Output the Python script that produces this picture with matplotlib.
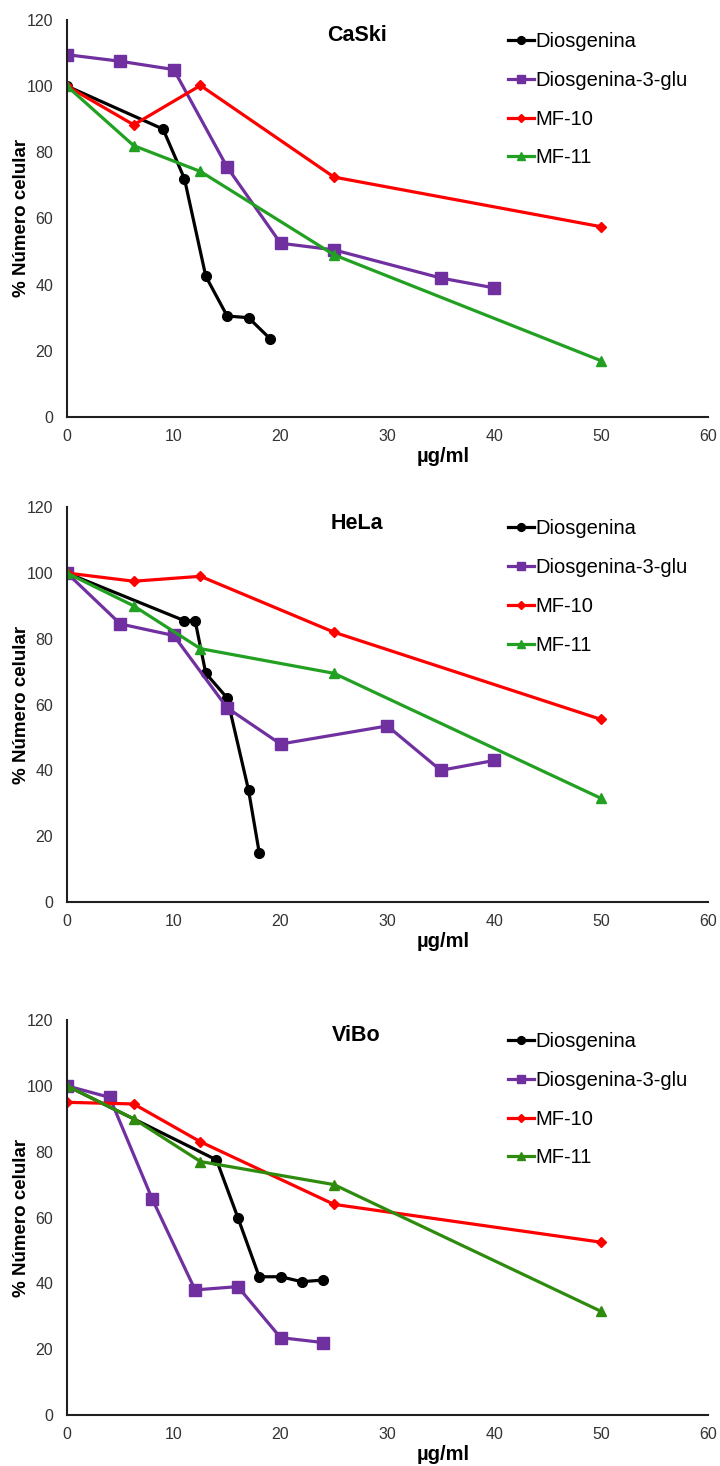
import matplotlib.pyplot as plt

plt.rcParams["font.family"] = ["Liberation Sans", "DejaVu Sans"]

# dose (ug/ml) and % cell number per cell line
caski_dios_x = [0, 9, 11, 13, 15, 17, 19]
caski_dios_y = [100, 87, 72, 42.5, 30.5, 30, 23.7]
caski_glu_x = [0, 5, 10, 15, 20, 25, 35, 40]
caski_glu_y = [109.5, 107.5, 105, 75.5, 52.5, 50.5, 42, 39]
caski_mf10_x = [0, 6.25, 12.5, 25, 50]
caski_mf10_y = [100, 88.3, 100.2, 72.5, 57.5]
caski_mf11_x = [0, 6.25, 12.5, 25, 50]
caski_mf11_y = [100, 82, 74.2, 49, 17]

hela_dios_x = [0, 11, 12, 13, 15, 17, 18]
hela_dios_y = [100, 85.5, 85.5, 69.5, 62, 34, 15]
hela_glu_x = [0, 5, 10, 15, 20, 30, 35, 40]
hela_glu_y = [100, 84.5, 81, 59, 48, 53.5, 40, 43]
hela_mf10_x = [0, 6.25, 12.5, 25, 50]
hela_mf10_y = [100, 97.5, 99, 82, 55.5]
hela_mf11_x = [0, 6.25, 12.5, 25, 50]
hela_mf11_y = [100, 90, 77, 69.5, 31.5]

vibo_dios_x = [0, 14, 16, 18, 20, 22, 24]
vibo_dios_y = [100, 77.5, 60, 42, 42, 40.5, 41]
vibo_glu_x = [0, 4, 8, 12, 16, 20, 24]
vibo_glu_y = [100, 96.5, 65.5, 38, 39, 23.5, 22]
vibo_mf10_x = [0, 6.25, 12.5, 25, 50]
vibo_mf10_y = [95, 94.5, 83, 64, 52.5]
vibo_mf11_x = [0, 6.25, 12.5, 25, 50]
vibo_mf11_y = [100, 90, 77, 70, 31.5]

labels = ["Diosgenina", "Diosgenina-3-glu", "MF-10", "MF-11"]
colors = ["black", "#7030A0", "#FF0000", "#22A022"]
markers = ["o", "s", "D", "^"]
msizes = [7, 8, 5, 7.5]

panels = [
    ("CaSki", [(caski_dios_x, caski_dios_y), (caski_glu_x, caski_glu_y),
               (caski_mf10_x, caski_mf10_y), (caski_mf11_x, caski_mf11_y)], "#22A022"),
    ("HeLa", [(hela_dios_x, hela_dios_y), (hela_glu_x, hela_glu_y),
              (hela_mf10_x, hela_mf10_y), (hela_mf11_x, hela_mf11_y)], "#22A022"),
    ("ViBo", [(vibo_dios_x, vibo_dios_y), (vibo_glu_x, vibo_glu_y),
              (vibo_mf10_x, vibo_mf10_y), (vibo_mf11_x, vibo_mf11_y)], "#2E8B0E"),
]

fig = plt.figure(figsize=(7.2, 14.66), dpi=100)
boxes = [(0.7156, 0.9864), (0.3848, 0.654), (0.0348, 0.3042)]

for (name, series, green), (b, t) in zip(panels, boxes):
    ax = fig.add_axes([0.093, b, 0.983 - 0.093, t - b])
    for i, (xs, ys) in enumerate(series):
        c = green if i == 3 else colors[i]
        ax.plot(xs, ys, color=c, marker=markers[i], markersize=msizes[i],
                linewidth=2.3, label=labels[i])
    ax.set_xlim(0, 60)
    ax.set_ylim(0, 120)
    ax.set_xticks(range(0, 61, 10))
    ax.set_yticks(range(0, 121, 20))
    ax.tick_params(length=0, labelsize=11.5, labelcolor="#333333")
    ax.tick_params(axis="x", pad=9)
    ax.tick_params(axis="y", pad=10)
    for s in ["top", "right"]:
        ax.spines[s].set_visible(False)
    for s in ["left", "bottom"]:
        ax.spines[s].set_color("#202020")
        ax.spines[s].set_linewidth(1.5)
    ax.set_ylabel("% Número celular", fontsize=13.5, fontweight="bold")
    ax.yaxis.set_label_coords(-0.058, 0.5)
    ax.text(0.587, -0.1, "µg/ml", transform=ax.transAxes, fontsize=14.5,
            fontweight="bold", ha="center", va="center")
    ax.text(0.452, 0.96, name, transform=ax.transAxes, fontsize=15.5,
            fontweight="bold", ha="center", va="center")
    ax.legend(loc="upper left", bbox_to_anchor=(0.66, 1.015), frameon=False,
              fontsize=14.5, handlelength=1.3, handletextpad=0.05,
              labelspacing=0.98, markerscale=0.8)

fig.savefig("out.png", dpi=100)
